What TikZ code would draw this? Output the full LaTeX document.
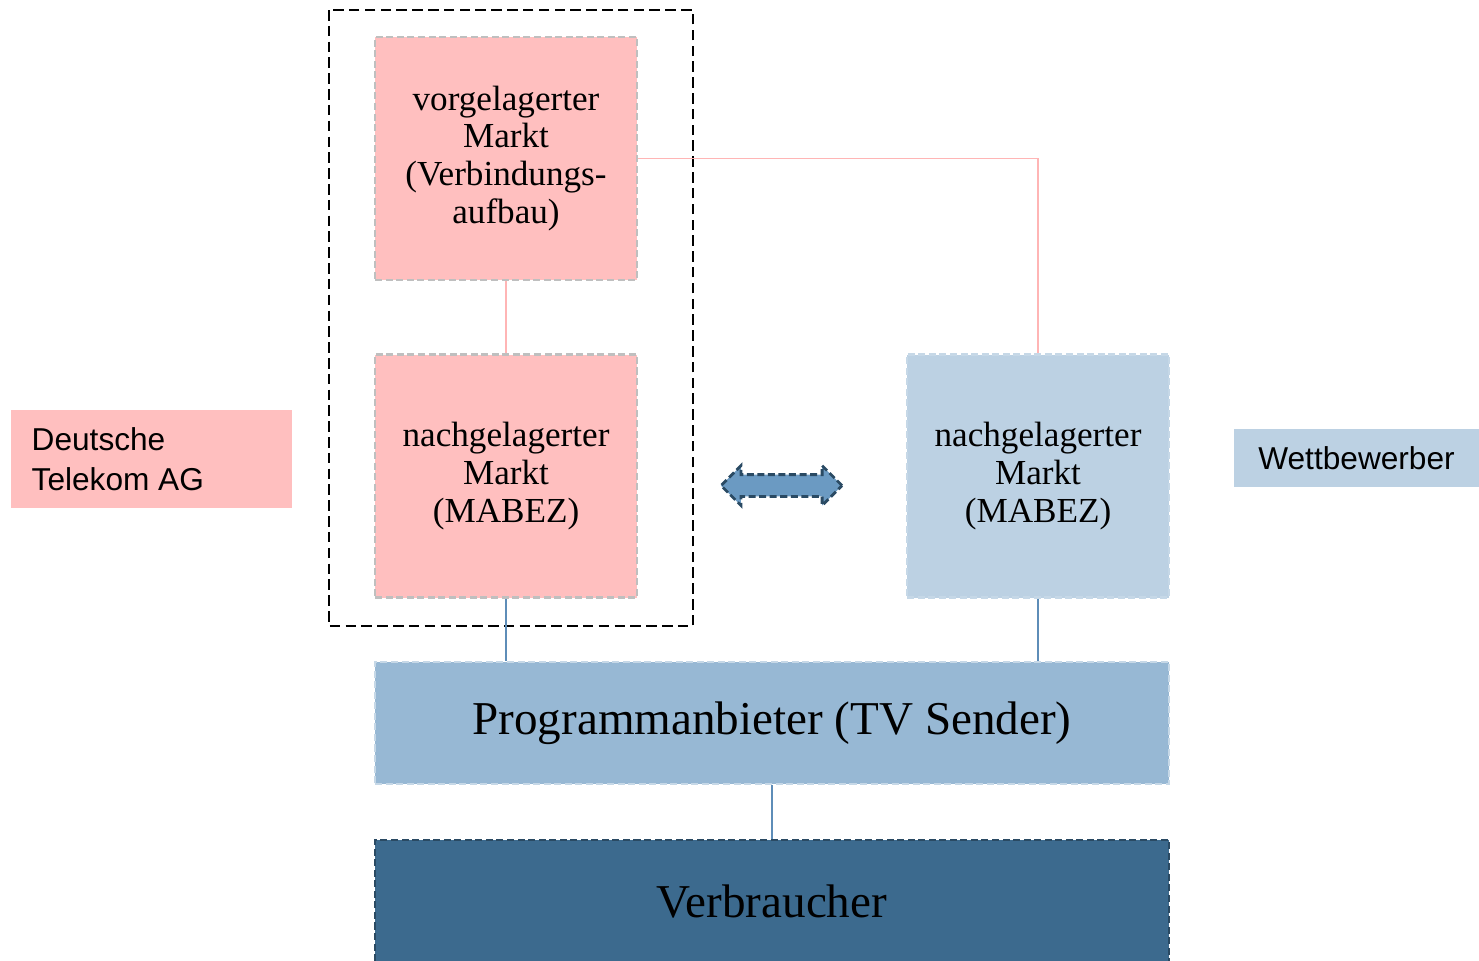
\documentclass[tikz,border=0pt]{standalone}
\usepackage{fontspec}
\setmainfont{Liberation Serif}
\newfontfamily\labelfont{Liberation Sans}
\usetikzlibrary{shapes.arrows}
\definecolor{dtpink}{HTML}{FFBFBF}
\definecolor{dtline}{HTML}{FFB5B5}
\definecolor{wbblue}{HTML}{BCD1E3}
\definecolor{pgblue}{HTML}{97B8D4}
\definecolor{vbblue}{HTML}{3C6A8E}
\definecolor{arblue}{HTML}{6B9AC2}
\definecolor{lnblue}{HTML}{5E8DB8}
\tikzset{
  markt/.style = {draw=black!25, dash pattern=on 2pt off 1pt, line width=0.6pt,
    minimum width=2.62cm, minimum height=2.43cm, inner sep=0pt, align=center,
    font=\fontsize{10}{10.8}\selectfont},
  stufe/.style = {dash pattern=on 2pt off 1pt, line width=0.5pt,
    minimum width=7.94cm, minimum height=1.22cm, inner sep=0pt,
    font=\fontsize{13.4}{16}\selectfont},
  akteur/.style = {inner sep=0pt, align=left, font=\labelfont\fontsize{9}{11.4}\selectfont},
  pinkline/.style = {draw=dtline, line width=0.5pt},
  blueline/.style = {draw=lnblue, line width=0.6pt}
}

\begin{document}
\begin{tikzpicture}
                %\draw[help lines] (0,0) grid (15,-10);
                \useasboundingbox (0,0) rectangle (14.79,-9.60);
                % Deutsche Telekom
                \draw[dash pattern=on 3pt off 1.5pt, line width=0.6pt] (3.29,-0.10) rectangle (6.93,-6.26);
                \node[markt, fill=dtpink] (vm) at (5.06,-1.585) {vorgelagerter\\Markt\\(Verbindungs-\\aufbau)};
                \node[markt, fill=dtpink] (nm) at (5.06,-4.76) {nachgelagerter\\Markt\\(MABEZ)};
                % Wettbewerber
                \node[markt, fill=wbblue, draw=wbblue!85!white] (nw) at (10.38,-4.76) {nachgelagerter\\Markt\\(MABEZ)};
                \node[double arrow, draw=vbblue!70!black, fill=arblue, dash pattern=on 2pt off 1pt, line width=0.8pt,
                      minimum height=1.21cm, inner xsep=0pt, inner ysep=0.095cm,
                      double arrow head extend=0.09cm] (pfeil) at (7.815,-4.855) {};
                % Ebenen
                \node[stufe, fill=pgblue, draw=pgblue!55!white] (pg) at (7.72,-7.23) {Programmanbieter (TV Sender)};
                \node[stufe, fill=vbblue, draw=vbblue!70!black] (vb) at (7.72,-9.01) {Verbraucher};
                % Beschriftungen
                \node[fill=dtpink, minimum width=2.81cm, minimum height=0.98cm] (dtbox) at (1.515,-4.59) {};
                \node[akteur, anchor=west] (dt) at (0.31,-4.59) {Deutsche\\Telekom AG};
                \node[fill=wbblue, minimum width=2.45cm, minimum height=0.58cm, inner sep=0pt,
                      font=\labelfont\fontsize{9}{11.4}\selectfont] (wb) at (13.565,-4.58) {Wettbewerber};
                % Verbindungen
                \draw[pinkline] (vm) -- (nm);
                \draw[pinkline] (vm.east) -| (nw.north);
                \draw[blueline] (nm.south) -- (nm.south |- pg.north);
                \draw[blueline] (nw.south) -- (nw.south |- pg.north);
                \draw[blueline] (pg) -- (vb);
        \end{tikzpicture}
\end{document}
